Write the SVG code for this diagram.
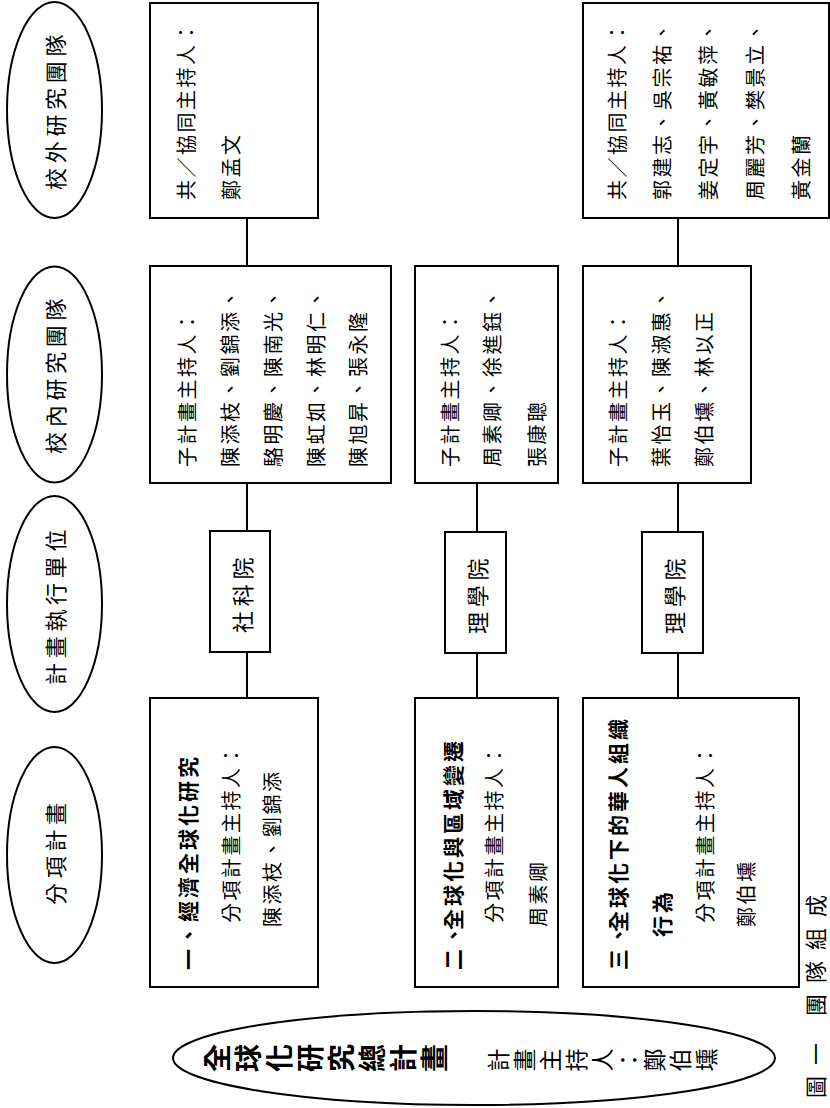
<svg xmlns="http://www.w3.org/2000/svg" width="830" height="1108" viewBox="0 0 830 1108">
<style>
.bg{fill:#fff}
.ln{stroke:#000;stroke-width:2;fill:none}
.bx{fill:#fff;stroke:#000;stroke-width:2}
.t{font-family:"Noto Sans CJK TC","Noto Sans CJK SC",sans-serif;font-size:20px;letter-spacing:2.5px;dominant-baseline:central;fill:#000}
.b{font-weight:700;font-size:21px;letter-spacing:3px}
.h{font-size:22px;letter-spacing:4.7px}
</style>
<rect class="bg" x="0" y="0" width="830" height="1108"/>
<g id="connectors">
<path class="ln" d="M247 218V266M247 483V531M247 652V698M477 483V532M477 653V698M678 218V266M678 483V532M678 653V698"/>
</g>
<g id="hdr-outside">
<ellipse class="bx" cx="54.5" cy="110" rx="47.5" ry="108"/>
<text class="t h" transform="translate(54,190) rotate(-90)">校外研究團隊</text>
</g>
<g id="hdr-inside">
<ellipse class="bx" cx="54.5" cy="374.5" rx="47.5" ry="108"/>
<text class="t h" transform="translate(54,454) rotate(-90)">校內研究團隊</text>
</g>
<g id="hdr-unit">
<ellipse class="bx" cx="54.5" cy="604" rx="47.5" ry="108"/>
<text class="t h" transform="translate(54,685) rotate(-90)">計畫執行單位</text>
</g>
<g id="hdr-sub">
<ellipse class="bx" cx="54.5" cy="855" rx="47.5" ry="108"/>
<text class="t h" transform="translate(54,905) rotate(-90)">分項計畫</text>
</g>
<g id="out1">
<rect class="bx" x="150" y="3" width="168" height="215"/>
<text class="t" transform="translate(185,200) rotate(-90)">共／協同主持人：</text>
<text class="t" transform="translate(230,200) rotate(-90)">鄭孟文</text>
</g>
<g id="out3">
<rect class="bx" x="583" y="3" width="246" height="215"/>
<text class="t" transform="translate(616,200) rotate(-90)">共／協同主持人：</text>
<text class="t" transform="translate(661,200) rotate(-90)">郭建志、吳宗祐、</text>
<text class="t" transform="translate(707,200) rotate(-90)">姜定宇、黃敏萍、</text>
<text class="t" transform="translate(754,200) rotate(-90)">周麗芳、樊景立、</text>
<text class="t" transform="translate(800,200) rotate(-90)">黃金蘭</text>
</g>
<g id="in1">
<rect class="bx" x="150" y="266" width="241" height="217"/>
<text class="t" transform="translate(186,467) rotate(-90)">子計畫主持人：</text>
<text class="t" transform="translate(229,467) rotate(-90)">陳添枝、劉錦添、</text>
<text class="t" transform="translate(272,467) rotate(-90)">駱明慶、陳南光、</text>
<text class="t" transform="translate(315,467) rotate(-90)">陳虹如、林明仁、</text>
<text class="t" transform="translate(357,467) rotate(-90)">陳旭昇、張永隆</text>
</g>
<g id="in2">
<rect class="bx" x="415" y="266" width="143" height="217"/>
<text class="t" transform="translate(449,467) rotate(-90)">子計畫主持人：</text>
<text class="t" transform="translate(491,467) rotate(-90)">周素卿、徐進鈺、</text>
<text class="t" transform="translate(536,467) rotate(-90)">張康聰</text>
</g>
<g id="in3">
<rect class="bx" x="583" y="266" width="168" height="217"/>
<text class="t" transform="translate(617,467) rotate(-90)">子計畫主持人：</text>
<text class="t" transform="translate(660,467) rotate(-90)">葉怡玉、陳淑惠、</text>
<text class="t" transform="translate(703,467) rotate(-90)">鄭伯壎、林以正</text>
</g>
<g id="unit1">
<rect class="bx" x="210" y="531" width="60" height="121"/>
<text class="t h" transform="translate(241,633) rotate(-90)">社科院</text>
</g>
<g id="unit2">
<rect class="bx" x="445" y="532" width="61" height="121"/>
<text class="t h" transform="translate(476,634) rotate(-90)">理學院</text>
</g>
<g id="unit3">
<rect class="bx" x="642" y="532" width="61" height="121"/>
<text class="t h" transform="translate(673,634) rotate(-90)">理學院</text>
</g>
<g id="sub1">
<rect class="bx" x="150" y="698" width="168" height="289"/>
<text class="t b" transform="translate(187,970) rotate(-90)">一、經濟全球化研究</text>
<text class="t" transform="translate(230,923) rotate(-90)">分項計畫主持人：</text>
<text class="t" transform="translate(271,927) rotate(-90)">陳添枝、劉錦添</text>
</g>
<g id="sub2">
<rect class="bx" x="415" y="698" width="143" height="289"/>
<text class="t b" transform="translate(452,970) rotate(-90)">二、<tspan dx="-8">全球化與區域變遷</tspan></text>
<text class="t" transform="translate(493,923) rotate(-90)">分項計畫主持人：</text>
<text class="t" transform="translate(537,927) rotate(-90)">周素卿</text>
</g>
<g id="sub3">
<rect class="bx" x="583" y="698" width="216" height="289"/>
<text class="t b" transform="translate(617,970) rotate(-90)">三、<tspan dx="-10">全球化下的華人組織</tspan></text>
<text class="t b" transform="translate(661,937) rotate(-90)">行為</text>
<text class="t" transform="translate(704,923) rotate(-90)">分項計畫主持人：</text>
<text class="t" transform="translate(745,927) rotate(-90)">鄭伯壎</text>
</g>
<g id="main">
<ellipse class="bx" cx="474" cy="1058" rx="301" ry="47"/>
<text transform="translate(203,1058) rotate(-90)" style="writing-mode:vertical-rl;font-family:'Noto Sans CJK TC',sans-serif;font-size:28px;font-weight:700;letter-spacing:3px">全球化研究總計畫</text>
<text transform="translate(487,1060) rotate(-90)" style="writing-mode:vertical-rl;font-family:'Noto Sans CJK TC',sans-serif;font-size:23px;letter-spacing:3px">計畫主持人：鄭伯壎</text>
</g>
<g id="caption">
<text class="t" transform="translate(814,1098) rotate(-90)" style="font-size:22px;letter-spacing:11px">圖一 團隊組成</text>
</g>
</svg>
